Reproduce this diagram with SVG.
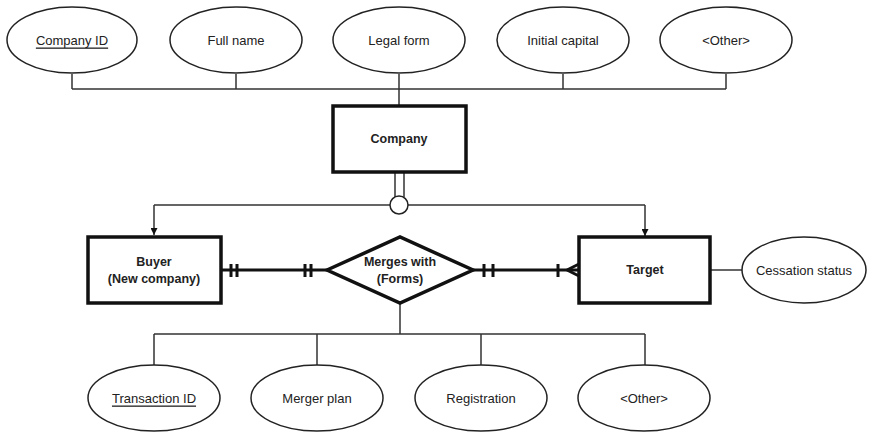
<svg xmlns="http://www.w3.org/2000/svg" width="869" height="435" viewBox="0 0 869 435">
<style>
.attr{fill:#fff;stroke:#222;stroke-width:1.5}
.ent{fill:#fff;stroke:#111;stroke-width:3.5}
.thin{fill:none;stroke:#333;stroke-width:1.5}
.thick{fill:none;stroke:#111;stroke-width:3}
text{font-family:"Liberation Sans",Arial,sans-serif;font-size:13px;fill:#222;text-anchor:middle;dominant-baseline:central}
.b{font-weight:bold;font-size:12.5px}
</style>
<defs>
<marker id="arr" viewBox="0 0 10 10" refX="10" refY="5" markerWidth="7" markerHeight="7" orient="auto" markerUnits="userSpaceOnUse">
<path d="M0,0 L10,5 L0,10 z" fill="#111"/>
</marker>
</defs>
<rect width="869" height="435" fill="#fff"/>
<g id="connectors">
<path class="thin" d="M72,74 V89 M236,74 V89 M399,74 V106 M563,74 V89 M726,74 V89 M72,89 H726"/>
<path class="thin" d="M395,172 V197 M404,172 V197"/>
<path class="thin" d="M154,205 H390 M408,205 H645"/>
<path class="thin" d="M154,205 V235" marker-end="url(#arr)"/>
<path class="thin" d="M645,205 V236" marker-end="url(#arr)"/>
<path class="thick" d="M221,270 H327 M473,270 H579"/>
<path class="thick" d="M231,264 V277 M237,264 V277 M305,264 V277 M311,264 V277"/>
<path class="thick" d="M484,264 V277 M493,264 V277 M558,264 V277 M567,270 L579,264 M567,270 L579,276"/>
<path class="thin" d="M710,270 H742"/>
<path class="thin" d="M400,302 V334 M154,334 H645 M154,334 V365 M317,334 V365 M481,334 V365 M645,334 V365"/>
<circle cx="399" cy="205" r="9" class="attr"/>
</g>
<g id="company-id"><ellipse class="attr" cx="72" cy="40" rx="65" ry="33"/><text x="72" y="40" text-decoration="underline">Company ID</text></g>
<g id="full-name"><ellipse class="attr" cx="236" cy="40" rx="66" ry="33"/><text x="236" y="40">Full name</text></g>
<g id="legal-form"><ellipse class="attr" cx="399" cy="40" rx="66" ry="33"/><text x="399" y="40">Legal form</text></g>
<g id="initial-capital"><ellipse class="attr" cx="563" cy="40" rx="66" ry="33"/><text x="563" y="40">Initial capital</text></g>
<g id="other-top"><ellipse class="attr" cx="726" cy="40" rx="66" ry="33"/><text x="726" y="40">&lt;Other&gt;</text></g>
<g id="company"><rect class="ent" x="333" y="106" width="133" height="66"/><text class="b" x="399" y="139">Company</text></g>
<g id="buyer"><rect class="ent" x="88" y="237" width="133" height="66"/><text class="b" x="154" y="262">Buyer</text><text class="b" x="154" y="279">(New company)</text></g>
<g id="merges"><polygon class="ent" points="327,270 400,237 473,270 400,303"/><text class="b" x="400" y="262">Merges with</text><text class="b" x="400" y="279">(Forms)</text></g>
<g id="target"><rect class="ent" x="579" y="237" width="131" height="66"/><text class="b" x="645" y="270">Target</text></g>
<g id="cessation"><ellipse class="attr" cx="804" cy="270" rx="62" ry="33"/><text x="804" y="270">Cessation status</text></g>
<g id="transaction-id"><ellipse class="attr" cx="154" cy="398" rx="66" ry="33"/><text x="154" y="398" text-decoration="underline">Transaction ID</text></g>
<g id="merger-plan"><ellipse class="attr" cx="317" cy="398" rx="66" ry="33"/><text x="317" y="398">Merger plan</text></g>
<g id="registration"><ellipse class="attr" cx="481" cy="398" rx="66" ry="33"/><text x="481" y="398">Registration</text></g>
<g id="other-bottom"><ellipse class="attr" cx="644" cy="398" rx="66" ry="33"/><text x="644" y="398">&lt;Other&gt;</text></g>
</svg>
